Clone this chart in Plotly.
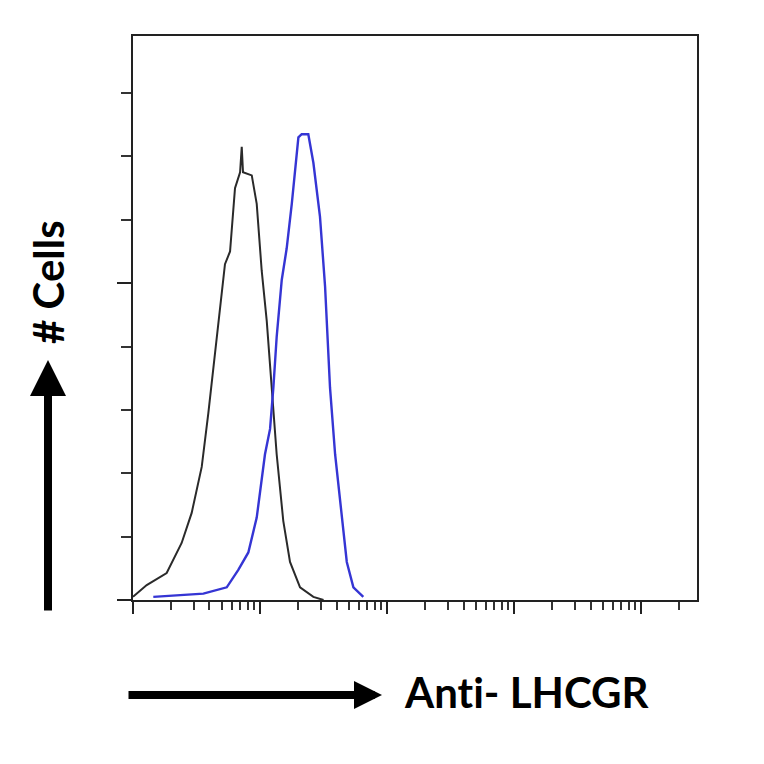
import numpy as np
import plotly.graph_objects as go

# Control (black) histogram: log10 fluorescence, cell count
ctrl_log = [0.0, 0.108, 0.265, 0.383, 0.462, 0.541, 0.593, 0.659, 0.724, 0.764, 0.803, 0.843, 0.856, 0.866,
            0.935, 0.974, 1.013, 1.053, 1.092, 1.131, 1.183, 1.236, 1.315, 1.420, 1.50]
ctrl_cnt = [1, 4.7, 8.5, 18, 27.5, 42, 59, 82, 106, 110, 130, 135, 143, 135,
            134, 125, 104, 88, 67, 46, 25, 12, 4, 1, 0]

# Anti-LHCGR (blue) histogram
ab_log = [0.160, 0.554, 0.738, 0.829, 0.908, 0.974, 1.039, 1.079, 1.105, 1.131, 1.171, 1.210, 1.250, 1.276,
          1.302, 1.328, 1.380, 1.420, 1.472, 1.512, 1.551, 1.591, 1.630, 1.683, 1.735, 1.813]
ab_cnt = [1, 2, 4, 9.5, 15, 26, 46, 54, 67, 83, 101, 111, 125, 136,
          146, 147, 147, 138, 121, 99, 67, 46, 31, 12, 4, 1]

y_ticks = [0, 20, 40, 60, 80, 100, 120, 140, 160]
y_major = [0, 100]
x_major = [1, 10, 100, 1000, 10000]
x_minor = [m * d for d in [1, 10, 100, 1000, 10000] for m in range(2, 10) if m * d < 10 ** 4.44]

fig = go.Figure()
fig.add_trace(go.Scatter(x=[10 ** v for v in ctrl_log], y=ctrl_cnt, mode="lines",
                         line=dict(color="#2a2a2a", width=2), showlegend=False))
fig.add_trace(go.Scatter(x=[10 ** v for v in ab_log], y=ab_cnt, mode="lines",
                         line=dict(color="#3535d4", width=2.4), showlegend=False))

fig.update_layout(
    width=764, height=764,
    margin=dict(l=125, r=75, t=28, b=172),
    paper_bgcolor="white", plot_bgcolor="white",
    xaxis=dict(type="log", range=[0, 4.44], showgrid=False, zeroline=False,
               showline=True, linecolor="#222", linewidth=2, mirror=True,
               tickmode="array", tickvals=x_major, ticktext=[""] * len(x_major),
               ticks="outside", ticklen=12, tickwidth=2, tickcolor="#222",
               minor=dict(tickmode="array", tickvals=x_minor, ticks="outside", ticklen=8,
                          tickwidth=2, tickcolor="#333")),
    yaxis=dict(range=[0, 178], showgrid=False, zeroline=False,
               showline=True, linecolor="#222", linewidth=2, mirror=True,
               tickmode="array", tickvals=y_major, ticktext=[""] * len(y_major),
               ticks="outside", ticklen=14, tickwidth=2, tickcolor="#222",
               minor=dict(tickmode="array", tickvals=[v for v in y_ticks if v not in y_major],
                          ticks="outside", ticklen=10, tickwidth=2, tickcolor="#333")),
)

font = dict(family="Lato, Open Sans, sans-serif", size=42, color="black")
W = 564.0
def px(x):
    return (x - 133) / W
def py(y):
    return (600 - y) / W

fig.add_annotation(x=px(48), y=py(282), xref="paper", yref="paper", text="<b># Cells</b>",
                   textangle=-90, showarrow=False, font=font, xanchor="center", yanchor="middle")
fig.add_annotation(x=px(402), y=py(692), xref="paper", yref="paper", text="<b>Ant\u200ci- LHCGR</b>",
                   showarrow=False, font=font, xanchor="left", yanchor="middle")
fig.add_annotation(x=px(48), y=py(360), xref="paper", yref="paper", text="",
                   showarrow=True, ax=0, ay=252, arrowhead=2, arrowsize=0.9, arrowwidth=8,
                   arrowcolor="black")
fig.add_annotation(x=px(382), y=py(695), xref="paper", yref="paper", text="",
                   showarrow=True, ax=-255, ay=0, arrowhead=2, arrowsize=0.7, arrowwidth=8,
                   arrowcolor="black")

fig.write_html("out.html")
